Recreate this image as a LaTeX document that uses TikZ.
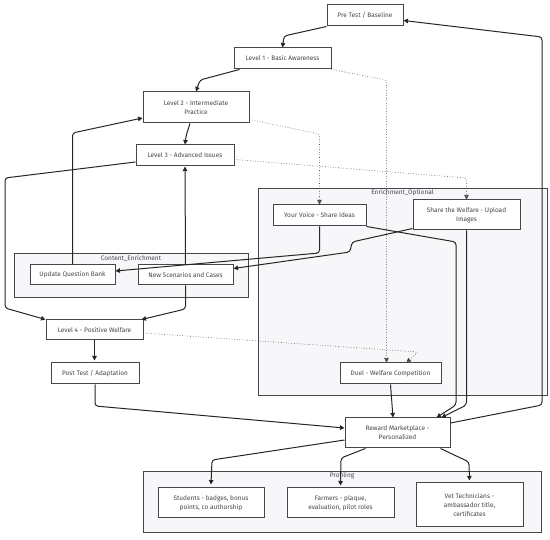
\documentclass[tikz,border=0pt]{standalone}
\usepackage{fontspec}
\setmainfont{Fira Sans}
\usetikzlibrary{arrows.meta}
\definecolor{txt}{RGB}{70,70,80}
\definecolor{bord}{RGB}{70,70,76}
\definecolor{clfill}{RGB}{247,247,250}
\tikzset{
  box/.style={draw=bord, line width=1pt, fill=white, text=txt, align=center,
    font=\fontsize{6.5}{9}\selectfont, inner sep=0pt},
  cluster/.style={draw=bord, line width=0.9pt, fill=clfill, inner sep=0pt},
  cllabel/.style={text=txt, font=\fontsize{6.5}{8}\selectfont, inner sep=0pt},
  edge/.style={draw=black!85, line width=1pt, rounded corners=3pt,
    -{Triangle[length=4.5pt,width=4.5pt]}},
  dotedge/.style={draw=black!70, line width=0.6pt, dotted, rounded corners=3pt,
    -{Triangle[length=4.5pt,width=4.5pt]}}
}
\begin{document}
\begin{tikzpicture}[x=1pt,y=-1pt]
\useasboundingbox (0,0) rectangle (550,540);
% clusters
\node[cluster, minimum width=289pt, minimum height=207pt] (opt) at (402.5,291.5) {};
\node[cllabel] (optl) at (402.5,192.5) {Enrichment\_Optional};
\node[cluster, minimum width=234pt, minimum height=44pt] (ce) at (131,275) {};
\node[cllabel] (cel) at (131,258) {Content\_Enrichment};
\node[cluster, minimum width=398pt, minimum height=61pt] (prof) at (342,501.5) {};
\node[cllabel] (profl) at (342,476) {Profiling};
% nodes
\node[box, minimum width=76pt, minimum height=21pt] (pre) at (365,15.5) {Pre Test / Baseline};
\node[box, minimum width=97pt, minimum height=21pt] (l1) at (282.5,58.5) {Level 1 - Basic Awareness};
\node[box, minimum width=106pt, minimum height=31pt] (l2) at (196,107.5) {Level 2 - Intermediate\\Practice};
\node[box, minimum width=98pt, minimum height=21pt] (l3) at (185,155.5) {Level 3 - Advanced Issues};
\node[box, minimum width=93pt, minimum height=21pt] (yv) at (319.5,215.5) {Your Voice - Share Ideas};
\node[box, minimum width=107pt, minimum height=30pt] (sw) at (466.5,215) {Share the Welfare - Upload\\Images};
\node[box, minimum width=85pt, minimum height=20pt] (uqb) at (72.5,275) {Update Question Bank};
\node[box, minimum width=95pt, minimum height=20pt] (ns) at (185.5,275) {New Scenarios and Cases};
\node[box, minimum width=97pt, minimum height=20pt] (l4) at (94.5,330) {Level 4 - Positive Welfare};
\node[box, minimum width=88pt, minimum height=21pt] (post) at (95,373.5) {Post Test / Adaptation};
\node[box, minimum width=101pt, minimum height=21pt] (duel) at (390.5,373.5) {Duel - Welfare Competition};
\node[box, minimum width=105pt, minimum height=30pt] (rew) at (397.5,433) {Reward Marketplace -\\Personalized};
\node[box, minimum width=106pt, minimum height=30pt] (stu) at (211,503) {Students - badges, bonus\\points, co authorship};
\node[box, minimum width=107pt, minimum height=30pt] (far) at (340.5,503) {Farmers - plaque,\\evaluation, pilot roles};
\node[box, minimum width=107pt, minimum height=44pt] (vet) at (469.5,505) {Vet Technicians -\\ambassador title,\\certificates};
% edges
\draw[edge] (pre.south west) -- (284,36) -- (l1.north);
\draw[edge] ([xshift=6pt]l1.south west) -- (200,80) -- (l2.north);
\draw[dotedge] (l1.south east) -- (386.5,80) -- ([xshift=-4pt]duel.north);
\draw[edge] ([xshift=-6pt]l2.south) -- (186,136) -- (l3.north);
\draw[dotedge] ([yshift=4pt]l2.south east) -- (319.5,134) -- (yv.north);
\draw[dotedge] ([yshift=-4pt]l3.east) -- (466.5,178) -- (sw.north);
\draw[edge] ([yshift=-6.5pt]l3.west) -- (5,178) -- (5,308) -- (l4.north west);
\draw[edge] (uqb.north) -- (72.5,133) -- ([yshift=-10.5pt]l2.west);
\draw[edge] (ns.north) -- (l3.south);
\draw[edge] (ns.south) -- (185.5,309) -- ([xshift=-2pt]l4.north east);
\draw[edge] (yv.south) -- (319.5,253) -- ([yshift=4pt]uqb.east);
\draw[edge] ([yshift=2pt]sw.south west) -- (352,242) -- (350,252) -- ([yshift=6.5pt]ns.east);
\draw[edge] (yv.south east) -- (456,242) -- (456,405) -- ([xshift=-14pt]rew.north east);
\draw[edge] (sw.south) -- (466.5,405) -- ([xshift=-9pt]rew.north east);
\draw[edge] (l4.south) -- ([yshift=2pt]post.north -| l4.south);
\draw[dotedge] ([yshift=-3pt]l4.east) -- (418,352) -- ([xshift=16pt]duel.north);
\draw[edge] (post.south) -- (95,406) -- ([yshift=5pt]rew.west);
\draw[edge] (duel.south) -- ([xshift=-4.5pt]rew.north);
\draw[edge] ([yshift=10pt]rew.east) -- (542,405) -- (542,37) -- ([yshift=-5pt]pre.east);
\draw[edge] ([yshift=-7pt]rew.west) -- (212,460) -- ([yshift=3pt]stu.north);
\draw[edge] ([xshift=-32pt]rew.south) -- (341,458) -- ([yshift=2pt]far.north);
\draw[edge] ([xshift=-10pt]rew.south east) -- (469,462) -- ([yshift=2pt]vet.north);
\end{tikzpicture}
\end{document}
